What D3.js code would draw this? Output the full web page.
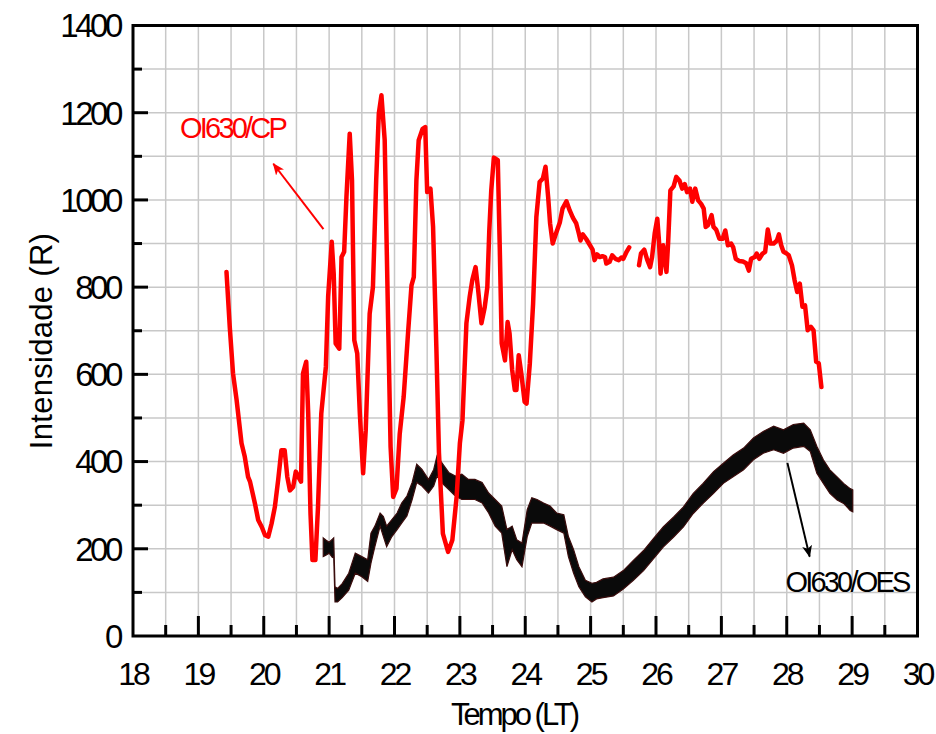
<!DOCTYPE html>
<html>
<head>
<meta charset="utf-8">
<script src="https://cdn.jsdelivr.net/npm/d3@7"></script>
<style>
  html, body { margin: 0; padding: 0; background: #fff; }
  svg { display: block; font-family: "Liberation Sans", Arial, sans-serif; }
</style>
</head>
<body>
<div id="chart"></div>
<script>
// ---- Data ----
const xTicks = [18, 19, 20, 21, 22, 23, 24, 25, 26, 27, 28, 29, 30];
const yTicks = [0, 200, 400, 600, 800, 1000, 1200, 1400];

// OI630/CP (red) – time (LT) and intensity (R); null marks the data gap
const cpTime = [19.43,19.48,19.53,19.585,19.66,19.71,19.76,19.79,19.865,19.915,19.97,20.02,20.07,20.12,20.17,20.22,20.27,20.32,20.36,20.40,20.45,20.49,20.53,20.57,20.60,20.65,20.68,20.715,20.745,20.79,20.83,20.88,20.95,20.985,21.04,21.07,21.10,21.155,21.19,21.23,21.265,21.315,21.35,21.385,21.43,21.47,21.52,21.56,21.62,21.67,21.72,21.76,21.80,21.85,21.90,21.94,21.98,22.03,22.08,22.14,22.21,22.26,22.295,22.335,22.37,22.43,22.47,22.50,22.55,22.59,22.64,22.68,22.74,22.82,22.885,22.95,23.0,23.04,23.10,23.15,23.19,23.24,23.28,23.33,23.38,23.42,23.45,23.48,23.52,23.58,23.61,23.64,23.69,23.73,23.76,23.80,23.84,23.865,23.90,23.94,23.99,24.02,24.07,24.12,24.17,24.22,24.27,24.31,24.35,24.38,24.42,24.47,24.53,24.57,24.63,24.68,24.73,24.78,24.82,24.845,24.88,24.93,24.99,25.03,25.06,25.10,25.14,25.18,25.22,25.24,25.29,25.33,25.38,25.43,25.47,25.50,25.55,25.59,25.66,25.74,25.77,25.82,25.865,25.91,25.94,25.98,26.02,26.045,26.07,26.11,26.16,26.185,26.22,26.27,26.31,26.36,26.40,26.44,26.475,26.52,26.555,26.60,26.645,26.69,26.73,26.76,26.795,26.85,26.88,26.92,26.97,27.02,27.06,27.10,27.15,27.18,27.22,27.27,27.33,27.38,27.42,27.455,27.51,27.54,27.58,27.63,27.67,27.71,27.75,27.80,27.85,27.88,27.915,27.95,27.99,28.03,28.08,28.12,28.16,28.20,28.24,28.28,28.32,28.37,28.41,28.45,28.49,28.53];
const cpValue = [835,709,602,541,442,411,365,354,304,266,250,231,228,258,296,357,426,426,365,334,342,377,365,354,602,629,510,281,174,174,296,510,617,778,904,831,671,659,869,881,1007,1152,1045,678,648,510,373,472,739,800,1045,1198,1240,1137,739,434,319,338,464,548,701,804,823,1045,1137,1163,1167,1018,1026,938,663,420,235,193,220,319,442,495,717,778,816,846,793,717,754,800,930,1022,1097,1091,892,671,632,720,694,610,564,564,644,602,537,533,625,762,961,1041,1049,1076,1007,946,900,923,949,980,997,976,959,946,923,907,921,911,896,886,862,875,869,871,869,854,858,873,865,862,868,865,881,891,null,850,877,886,863,846,869,923,957,907,831,896,835,900,1022,1031,1053,1044,1026,1036,1018,1026,996,1026,999,991,980,938,942,965,938,932,911,911,930,896,900,892,865,860,859,855,838,865,869,877,865,877,881,932,900,900,907,921,896,881,878,873,850,816,789,808,755,758,701,709,701,629,625,571];

// OI630/OES (black, noisy) – time (LT) with lower/upper edge of the noise band (R)
const oesTime = [20.91,20.95,21.00,21.05,21.07,21.09,21.13,21.20,21.30,21.40,21.50,21.59,21.64,21.70,21.78,21.83,21.88,21.96,22.04,22.11,22.19,22.27,22.34,22.42,22.52,22.60,22.65,22.72,22.83,22.93,23.03,23.13,23.23,23.34,23.44,23.54,23.64,23.72,23.80,23.87,23.95,24.03,24.10,24.18,24.28,24.38,24.48,24.59,24.66,24.74,24.82,24.92,25.02,25.09,25.19,25.35,25.50,25.65,25.81,25.96,26.11,26.27,26.42,26.57,26.72,26.88,27.03,27.18,27.34,27.49,27.64,27.80,27.95,28.10,28.26,28.36,28.46,28.56,28.66,28.77,28.87,28.97,29.01];
const oesLow  = [182,185,190,180,182,78,78,88,105,144,136,125,167,205,252,228,205,228,244,259,275,313,352,344,328,344,367,352,336,321,313,313,313,305,282,252,236,159,198,175,159,228,259,259,259,252,244,236,182,144,113,90,78,85,88,92,108,127,150,177,204,227,250,281,304,327,350,365,381,404,419,427,419,431,435,423,373,350,327,312,304,288,285];
const oesHigh = [225,220,215,222,225,113,109,120,144,190,182,175,236,252,282,274,252,267,282,305,321,352,394,382,359,382,413,398,375,367,371,359,359,352,328,313,298,244,252,221,213,290,317,313,305,298,282,278,228,198,159,128,121,123,131,135,150,173,196,223,250,273,296,327,350,377,396,415,431,454,469,481,473,485,488,473,435,404,381,365,350,338,335];

// Annotations (data coordinates)
const cpLabel = { text: "OI630/CP", t: 18.72, v: 1143 };
const oesLabel = { text: "OI630/OES", t: 27.98, v: 101 };
const cpArrow = { t0: 20.913, v0: 933, t1: 20.147, v1: 1083 };
const oesArrow = { t0: 28.01, v0: 397, t1: 28.35, v1: 182 };

// ---- Layout ----
const W = 936, H = 734;
const m = { left: 133, top: 25.5, right: 936 - 917.5, bottom: 734 - 636 };
const iw = W - m.left - m.right, ih = H - m.top - m.bottom;

const svg = d3.select("#chart").append("svg").attr("width", W).attr("height", H);
const defs = svg.append("defs");
function marker(id, color) {
  defs.append("marker").attr("id", id).attr("viewBox", "0 0 12 10")
    .attr("refX", 11).attr("refY", 5).attr("markerWidth", 12).attr("markerHeight", 10)
    .attr("markerUnits", "userSpaceOnUse").attr("orient", "auto")
    .append("path").attr("d", "M0,0 L12,5 L0,10 L3,5 Z").attr("fill", color);
}
marker("arrRed", "#ff0000");
marker("arrBlack", "#000");

const g = svg.append("g").attr("transform", `translate(${m.left},${m.top})`);
const x = d3.scaleLinear().domain([18, 30]).range([0, iw]);
const y = d3.scaleLinear().domain([0, 1400]).range([ih, 0]);

// Gridlines (every 0.5 h and every 100 R)
const grid = g.append("g").attr("stroke", "#c8c8c8").attr("stroke-width", 1.5);
grid.selectAll("line.gx").data(d3.range(18.5, 30, 0.5)).join("line")
  .attr("x1", d => x(d)).attr("x2", d => x(d)).attr("y1", 0).attr("y2", ih);
grid.selectAll("line.gy").data(d3.range(100, 1400, 100)).join("line")
  .attr("y1", d => y(d)).attr("y2", d => y(d)).attr("x1", 0).attr("x2", iw);

// OES band
const oes = oesTime.map((t, i) => ({ t, lo: oesLow[i], hi: oesHigh[i] }));
g.append("path").datum(oes)
  .attr("d", d3.area().x(d => x(d.t)).y0(d => y(d.lo)).y1(d => y(d.hi)))
  .attr("fill", "#0a0a0a").attr("stroke", "#3a0c0c").attr("stroke-width", 1.2);

// CP line
const cp = cpTime.map((t, i) => ({ t, v: cpValue[i] }));
g.append("path").datum(cp)
  .attr("d", d3.line().defined(d => d.v != null).x(d => x(d.t)).y(d => y(d.v)))
  .attr("fill", "none").attr("stroke", "#ff0000").attr("stroke-width", 4.5)
  .attr("stroke-linejoin", "round").attr("stroke-linecap", "round");

// Axes
const gx = g.append("g").attr("transform", `translate(0,${ih})`);
gx.selectAll("line.mx").data(d3.range(18.5, 30, 1)).join("line")
  .attr("x1", d => x(d)).attr("x2", d => x(d)).attr("y1", 0).attr("y2", -11)
  .attr("stroke", "#000").attr("stroke-width", 3);
gx.selectAll("line.Mx").data(xTicks.slice(1, -1)).join("line")
  .attr("x1", d => x(d)).attr("x2", d => x(d)).attr("y1", 0).attr("y2", -20)
  .attr("stroke", "#000").attr("stroke-width", 3);
gx.selectAll("text").data(xTicks).join("text")
  .attr("x", d => x(d)).attr("y", 49).attr("text-anchor", "middle")
  .attr("font-size", 32).attr("letter-spacing", "-3px").attr("fill", "#000")
  .text(d => d);

const gy = g.append("g");
gy.selectAll("line.my").data(d3.range(100, 1400, 200)).join("line")
  .attr("y1", d => y(d)).attr("y2", d => y(d)).attr("x1", 0).attr("x2", 9)
  .attr("stroke", "#000").attr("stroke-width", 3);
gy.selectAll("line.My").data(yTicks.slice(1, -1)).join("line")
  .attr("y1", d => y(d)).attr("y2", d => y(d)).attr("x1", 0).attr("x2", 15)
  .attr("stroke", "#000").attr("stroke-width", 3);
gy.selectAll("text").data(yTicks).join("text")
  .attr("x", -13).attr("y", d => y(d)).attr("dy", "0.36em").attr("text-anchor", "end")
  .attr("font-size", 33).attr("letter-spacing", "-3.4px").attr("fill", "#000")
  .text(d => d);

// Frame
g.append("rect").attr("x", 0).attr("y", 0).attr("width", iw).attr("height", ih)
  .attr("fill", "none").attr("stroke", "#000").attr("stroke-width", 3);

// Annotations
g.append("line")
  .attr("x1", x(cpArrow.t0)).attr("y1", y(cpArrow.v0)).attr("x2", x(cpArrow.t1)).attr("y2", y(cpArrow.v1))
  .attr("stroke", "#ff0000").attr("stroke-width", 2).attr("marker-end", "url(#arrRed)");
g.append("line")
  .attr("x1", x(oesArrow.t0)).attr("y1", y(oesArrow.v0)).attr("x2", x(oesArrow.t1)).attr("y2", y(oesArrow.v1))
  .attr("stroke", "#000").attr("stroke-width", 2).attr("marker-end", "url(#arrBlack)");
g.append("text").attr("x", x(cpLabel.t)).attr("y", y(cpLabel.v))
  .attr("font-size", 29).attr("letter-spacing", "-2.8px").attr("fill", "#ff0000").text(cpLabel.text);
g.append("text").attr("x", x(oesLabel.t)).attr("y", y(oesLabel.v))
  .attr("font-size", 29).attr("letter-spacing", "-2.8px").attr("fill", "#000").text(oesLabel.text);

// Axis titles
svg.append("text").attr("x", 514).attr("y", 725).attr("text-anchor", "middle")
  .attr("font-size", 31).attr("letter-spacing", "-3px").attr("fill", "#000").text("Tempo (LT)");
svg.append("text").attr("transform", "translate(52,341) rotate(-90)").attr("text-anchor", "middle")
  .attr("font-size", 31).attr("letter-spacing", "0.3px").attr("fill", "#000").text("Intensidade (R)");
</script>
</body>
</html>
